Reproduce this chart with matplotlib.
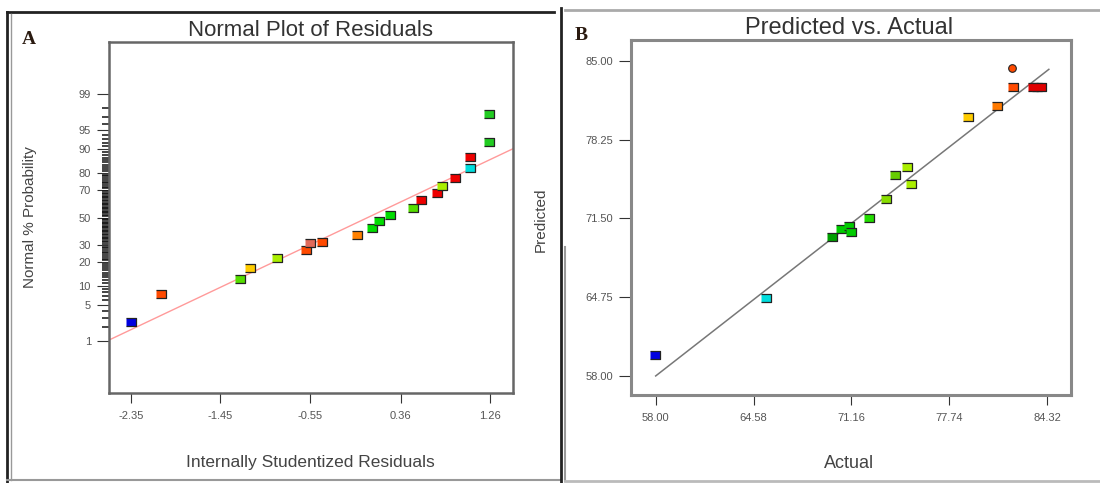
import numpy as np
from statistics import NormalDist
import matplotlib
matplotlib.use("Agg")
from matplotlib import pyplot as plt
from matplotlib.lines import Line2D

plt.rcParams['font.family'] = ['Liberation Sans', 'DejaVu Sans']

# ---- Panel A : normal plot of residuals
res_x = [-2.35, -2.05, -1.25, -1.15, -0.88, -0.59, -0.55, -0.43, -0.08, 0.07, 0.14,
         0.25, 0.49, 0.57, 0.73, 0.78, 0.91, 1.06, 1.06, 1.25, 1.25]
res_p = [2.5, 7.5, 12.5, 17.3, 22.4, 27.0, 31.6, 32.5, 37.0, 42.2, 47.2,
         51.9, 57.4, 62.7, 67.5, 72.3, 77.3, 82.4, 87.2, 92.3, 97.4]
res_c = ['#0000e0', '#ff4a00', '#55dd00', '#ffcc00', '#aaee00', '#ff4a00', '#e06a5a',
         '#ff4a00', '#ff8000', '#00dd00', '#00dd00', '#00dd00', '#55dd00', '#ee0000',
         '#ee0000', '#aaee00', '#ee0000', '#00dddd', '#ee0000', '#22cc22', '#22cc22']
fit_a_x = [-2.57, 1.49]
fit_a_p = [1.06, 90.2]
a_xticks = [-2.35, -1.45, -0.55, 0.36, 1.26]
a_yticks = [1, 5, 10, 20, 30, 50, 70, 80, 90, 95, 99]

# ---- Panel B : predicted vs actual
act = [57.95, 65.40, 69.88, 70.46, 70.98, 71.15, 72.36, 73.49, 74.11, 74.92, 75.15,
       78.98, 80.97, 82.01, 81.96, 83.35, 83.62, 83.89]
pred = [59.82, 64.73, 69.94, 70.63, 70.86, 70.37, 71.52, 73.17, 75.20, 75.91, 74.48,
        80.21, 81.15, 82.78, 84.40, 82.78, 82.78, 82.78]
pred_c = ['#0000e0', '#00dddd', '#00a000', '#00cc00', '#00cc00', '#00cc00', '#22dd00',
          '#88dd00', '#66cc00', '#aaee00', '#aaee00', '#ffcc00', '#ff7a00', '#ff4a00',
          '#ff4a00', '#e00000', '#e00000', '#e00000']
pred_m = ['s'] * 14 + ['o'] + ['s'] * 3
fit_b_x = [58.0, 84.44]
fit_b_y = [58.03, 84.26]
b_xticks = [58.00, 64.58, 71.16, 77.74, 84.32]
b_yticks = [58.00, 64.75, 71.50, 78.25, 85.00]

W, H = 1100, 483
fig = plt.figure(figsize=(W / 100, H / 100), dpi=100)


def rect(l, t, r, b):
	return [l / W, 1 - b / H, (r - l) / W, (b - t) / H]


def fline(x, y, color, lw):
	fig.add_artist(Line2D([v / W for v in x], [1 - v / H for v in y],
	                      color=color, lw=lw, transform=fig.transFigure))


nd = NormalDist()
def z(p):
	return np.array([nd.inv_cdf(v / 100) for v in p])


box = [(-1.3, -1), (1.3, -1), (1.3, 1), (-1.3, 1)]
tick_kw = dict(labelsize=8, labelcolor='#555555', color='#333333', direction='out')

# panel frames
fline([7, 554], [12, 12], '#222222', 2)
fline([7, 7], [12, 482], '#222222', 2)
fline([11, 11], [14, 480], '#999999', 1)
fline([7, 560], [480, 480], '#999999', 1.5)
fline([561, 561], [8, 483], '#222222', 2)
fline([565, 565], [247, 481], '#999999', 1.5)
fline([565, 1100], [10, 10], '#aaaaaa', 2)
fline([565, 1100], [481, 481], '#bbbbbb', 2)

# ---------------- A
ax = fig.add_axes(rect(109, 42, 513, 393))
ax.plot(fit_a_x, z(fit_a_p), color='#ff9a9a', lw=1)
for x, p, c in zip(res_x, res_p, res_c):
	ax.plot(x, z([p])[0], marker=box, ms=6.6, color=c, mec='#222222', mew=0.9, ls='none')
ax.set_xlim(-2.57, 1.49)
ax.set_ylim(-3.3, 3.3)
ax.set_xticks(a_xticks)
ax.set_xticklabels(['%.2f' % v for v in a_xticks])
ax.set_yticks(z(a_yticks))
ax.set_yticklabels([str(v) for v in a_yticks])
minor = [v for v in range(1, 100) if v not in a_yticks]
ax.set_yticks(z(minor), minor=True)
ax.tick_params(axis='x', length=7, pad=6, **tick_kw)
ax.tick_params(axis='y', length=9, pad=4, **tick_kw)
ax.tick_params(axis='y', which='minor', length=5, width=1.1, color='#111111')
for s in ax.spines.values():
	s.set_color('#666666')
	s.set_linewidth(1.8)

fig.text(310 / W, 1 - 30 / H, 'Normal Plot of Residuals', ha='center', va='center',
         fontsize=16, color='#333333')
fig.text(310 / W, 1 - 462 / H, 'Internally Studentized Residuals', ha='center', va='center',
         fontsize=12.5, color='#444444')
fig.text(30 / W, 1 - 217 / H, 'Normal % Probability', ha='center', va='center',
         rotation=90, fontsize=11, color='#444444')
fig.text(29 / W, 1 - 39 / H, 'A', ha='center', va='center', fontsize=14,
         fontweight='bold', family='Liberation Serif', color='#2a1a10')

# ---------------- B
bx = fig.add_axes(rect(631, 40, 1071, 395))
bx.plot(fit_b_x, fit_b_y, color='#777777', lw=1.1)
for x, y, c, m in zip(act, pred, pred_c, pred_m):
	if m == 's':
		bx.plot(x, y, marker=box, ms=6.6, color=c, mec='#222222', mew=0.9, ls='none')
	else:
		bx.plot(x, y, marker='o', ms=5.5, color=c, mec='#222222', mew=0.8, ls='none')
bx.set_xlim(56.34, 85.93)
bx.set_ylim(56.40, 86.77)
bx.set_xticks(b_xticks)
bx.set_xticklabels(['%.2f' % v for v in b_xticks])
bx.set_yticks(b_yticks)
bx.set_yticklabels(['%.2f' % v for v in b_yticks])
bx.tick_params(axis='x', length=7, pad=6, **tick_kw)
bx.tick_params(axis='y', length=9, pad=4, **tick_kw)
for s in bx.spines.values():
	s.set_color('#888888')
	s.set_linewidth(2.2)

fig.text(849 / W, 1 - 28 / H, 'Predicted vs. Actual', ha='center', va='center',
         fontsize=17, color='#333333')
fig.text(849 / W, 1 - 463 / H, 'Actual', ha='center', va='center',
         fontsize=13, color='#444444')
fig.text(541 / W, 1 - 220 / H, 'Predicted', ha='center', va='center',
         rotation=90, fontsize=11, color='#444444')
fig.text(581 / W, 1 - 36 / H, 'B', ha='center', va='center', fontsize=14,
         fontweight='bold', family='Liberation Serif', color='#2a1a10')

plt.savefig('out.png', dpi=100)
